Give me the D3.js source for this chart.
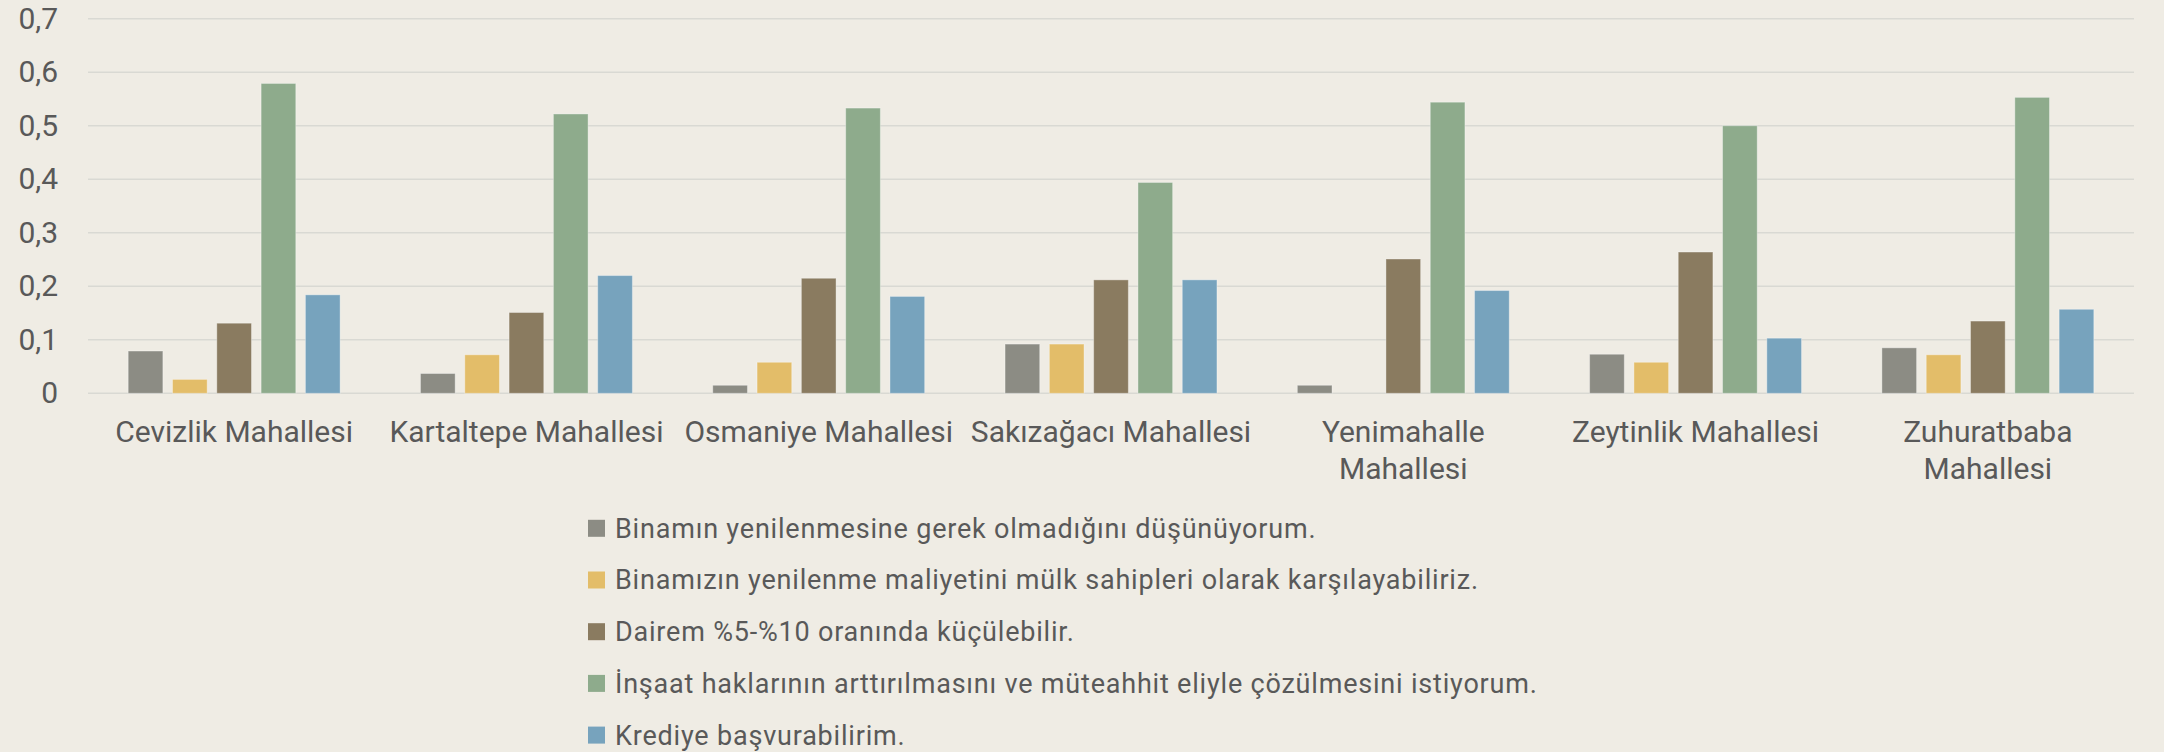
<!DOCTYPE html>
<html>
<head>
<meta charset="utf-8">
<script src="https://cdn.jsdelivr.net/npm/d3@7"></script>
<style>
  body { margin: 0; background: #efece4; }
  svg { display: block; font-family: Roboto, "Liberation Sans", sans-serif; }
</style>
</head>
<body>
<div id="chart"></div>
<script>
var width = 2164,
  height = 752;

// neighbourhoods (x categories)
var categories = [
  'Cevizlik Mahallesi',
  'Kartaltepe Mahallesi',
  'Osmaniye Mahallesi',
  'Sakızağacı Mahallesi',
  'Yenimahalle Mahallesi',
  'Zeytinlik Mahallesi',
  'Zuhuratbaba Mahallesi'
];

// answer series, one value per neighbourhood
var seriesNames = [
  'Binamın yenilenmesine gerek olmadığını düşünüyorum.',
  'Binamızın yenilenme maliyetini mülk sahipleri olarak karşılayabiliriz.',
  'Dairem %5-%10 oranında küçülebilir.',
  'İnşaat haklarının arttırılmasını ve müteahhit eliyle çözülmesini istiyorum.',
  'Krediye başvurabilirim.'
];
var gerekYok   = [0.079, 0.037, 0.015, 0.092, 0.015, 0.073, 0.085];
var karsilar   = [0.026, 0.072, 0.058, 0.092, 0,     0.058, 0.072];
var kuculur    = [0.131, 0.151, 0.215, 0.212, 0.251, 0.264, 0.135];
var muteahhit  = [0.579, 0.522, 0.533, 0.394, 0.544, 0.500, 0.553];
var kredi      = [0.184, 0.220, 0.181, 0.212, 0.192, 0.103, 0.157];
var seriesValues = [gerekYok, karsilar, kuculur, muteahhit, kredi];

var yTicks = [0, 0.1, 0.2, 0.3, 0.4, 0.5, 0.6, 0.7];

var colors = ['#8c8c84', '#e3bd69', '#8a7b60', '#8eab8c', '#77a3bd'];

var margin = {left: 88, right: 30, top: 18.7, bottom: 358.7};
var textColor = '#595959';

var svg = d3.select('#chart')
  .append('svg')
  .attr('width', width)
  .attr('height', height);

svg.append('rect')
  .attr('width', width)
  .attr('height', height)
  .attr('fill', '#efece4');

var x0 = d3.scaleBand()
  .domain(categories)
  .range([margin.left, width - margin.right])
  .padding(0);

var x1 = d3.scaleBand()
  .domain(d3.range(seriesNames.length))
  .range([0, x0.bandwidth()])
  .paddingInner(0.217)
  .paddingOuter(0.907);

var y = d3.scaleLinear()
  .domain([0, 0.7])
  .range([height - margin.bottom, margin.top]);

var comma = d3.formatLocale({decimal: ',', thousands: '.', grouping: [3], currency: ['', '']}).format('.1f');

// gridlines
svg.append('g')
  .selectAll('line')
  .data(yTicks)
  .join('line')
  .attr('x1', margin.left)
  .attr('x2', width - margin.right)
  .attr('y1', d => y(d))
  .attr('y2', d => y(d))
  .attr('stroke', '#d9d9d3')
  .attr('stroke-width', 1.5);

// y axis labels
var yAxis = svg.append('g')
  .attr('transform', 'translate(58,0)')
  .call(d3.axisLeft(y).tickValues(yTicks).tickSize(0).tickPadding(0)
    .tickFormat(d => d === 0 ? '0' : comma(d)));
yAxis.select('.domain').remove();
yAxis.selectAll('text')
  .attr('fill', textColor)
  .style('font-size', '30px')
  .style('font-family', 'Roboto, sans-serif');

// bars
var groups = svg.append('g')
  .selectAll('g')
  .data(categories)
  .join('g')
  .attr('transform', d => 'translate(' + x0(d) + ',0)');

groups.selectAll('rect')
  .data((c, i) => seriesValues.map((vals, s) => ({s: s, v: vals[i]})))
  .join('rect')
  .filter(d => d.v > 0)
  .attr('x', d => x1(d.s))
  .attr('width', x1.bandwidth())
  .attr('y', d => y(d.v))
  .attr('height', d => y(0) - y(d.v))
  .attr('fill', d => colors[d.s])
  .attr('stroke', 'rgba(255,255,255,0.35)')
  .attr('stroke-width', 1);

// x axis labels, wrapped when wider than the band
var xAxis = svg.append('g')
  .attr('transform', 'translate(0,' + (y(0) + 48.5) + ')');

xAxis.selectAll('text')
  .data(categories)
  .join('text')
  .attr('x', d => x0(d) + x0.bandwidth() / 2)
  .attr('text-anchor', 'middle')
  .attr('fill', textColor)
  .style('font-size', '30px')
  .text(d => d)
  .each(function(d) {
    var t = d3.select(this);
    if (this.getComputedTextLength() > x0.bandwidth() - 2) {
      var words = d.split(' ');
      var last = words.pop();
      t.text(null);
      t.append('tspan').attr('x', x0(d) + x0.bandwidth() / 2).attr('dy', 0).text(words.join(' '));
      t.append('tspan').attr('x', x0(d) + x0.bandwidth() / 2).attr('dy', 37.5).text(last);
    }
  });

// legend
var legend = svg.append('g')
  .attr('transform', 'translate(588,528.3)');

var rows = legend.selectAll('g')
  .data(seriesNames)
  .join('g')
  .attr('transform', (d, i) => 'translate(0,' + i * 51.7 + ')');

rows.append('rect')
  .attr('x', 0)
  .attr('y', -8.5)
  .attr('width', 17)
  .attr('height', 17)
  .attr('fill', (d, i) => colors[i]);

rows.append('text')
  .attr('x', 27)
  .attr('y', 0)
  .attr('dy', '0.35em')
  .attr('fill', textColor)
  .style('font-size', '27px')
  .style('letter-spacing', '0.8px')
  .text(d => d);
</script>
</body>
</html>
